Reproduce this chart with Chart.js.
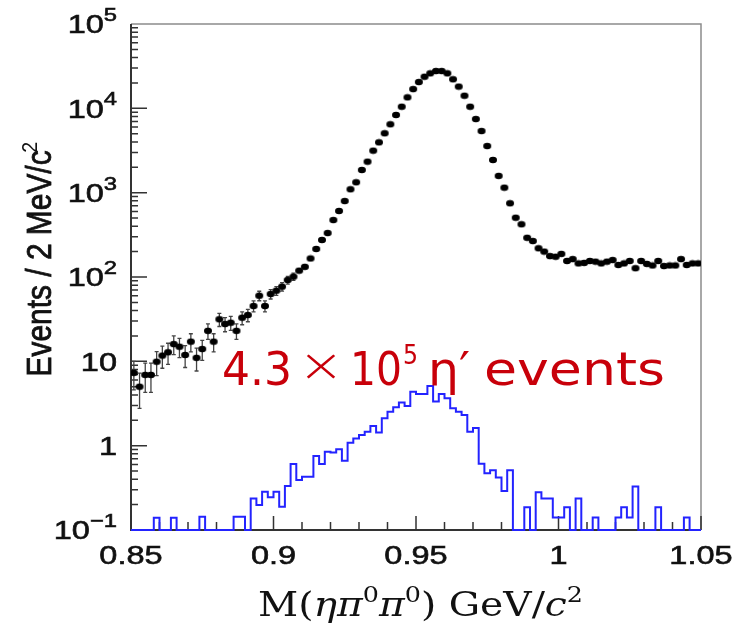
<!DOCTYPE html>
<html lang="en">
<head>
<meta charset="UTF-8">
<title>M(eta pi0 pi0)</title>
<script src="https://cdn.jsdelivr.net/npm/chart.js"></script>
<style>
  html, body { margin: 0; padding: 0; background: #fff; }
</style>
</head>
<body>
<canvas id="massPlot" width="740" height="628"></canvas>
<script>
// 2 MeV bins from 0.85 to 1.05 GeV
const binLow = 0.85;
const binWidth = 0.002;
const xMin = 0.85, xMax = 1.05;
const yMin = 0.1, yMax = 100000;

const xTickValues = [0.85, 0.9, 0.95, 1, 1.05];
const xTickLabels = ['0.85', '0.9', '0.95', '1', '1.05'];
const yTickValues = [0.1, 1, 10, 100, 1000, 10000, 100000];
const yTickBase = ['10', '1', '10', '10', '10', '10', '10'];
const yTickExp = ['\u22121', '', '', '2', '3', '4', '5'];

// data, events per bin (black dots)
const dataCounts = [
  7.3, 5.0, 6.9, 6.9, 9.9, 11.7, 12.8, 16, 14.9, 11.9,
  17.1, 11, 14, 23, 17.1, 31.5, 27.7, 28.7, 23, 32.9,
  35.4, 45.3, 60, 45.3, 62.8, 68.8, 76.8, 92, 101, 119,
  132, 166, 215, 275, 332, 474, 607, 796, 1097, 1327,
  1858, 2330, 3150, 3950, 5060, 6470, 8340, 10450, 13500, 16900,
  20500, 23700, 26000, 27700, 27700, 26000, 22100, 18100, 14100, 10450,
  7470, 5380, 3570, 2440, 1580, 1146, 748, 505, 422, 292,
  267, 219, 200, 177, 174, 188, 155, 163, 145, 147,
  155, 152, 145, 152, 159, 139, 145, 155, 127, 155,
  143, 137, 155, 135, 137, 137, 163, 139, 145, 145
];

// blue histogram
const bkgCounts = [
  0, 0, 0, 0, 0, 0.14, 0, 0, 0.14, 0,
  0, 0, 0, 0.144, 0, 0, 0, 0, 0, 0.144,
  0.144, 0, 0.237, 0.198, 0.285, 0.244, 0.285, 0.189, 0.333, 0.605,
  0.392, 0.429, 0.429, 0.754, 0.605, 0.849, 0.83, 0.905, 0.663, 1.08,
  1.22, 1.34, 1.46, 1.71, 1.43, 2.11, 2.53, 2.85, 3.24, 2.95,
  4.37, 4.1, 4.1, 5.1, 3.33, 4.1, 3.64, 2.77, 2.53, 2.31,
  1.46, 1.62, 0.61, 0.47, 0.51, 0.42, 0.29, 0.51, 0, 0,
  0.186, 0, 0.28, 0.237, 0.237, 0.141, 0.141, 0.186, 0, 0.237,
  0, 0, 0.141, 0, 0, 0, 0.141, 0.186, 0.141, 0.327,
  0, 0, 0, 0.186, 0, 0, 0, 0, 0.141, 0
];

const dataPoints = dataCounts.map((v, i) => ({ x: binLow + (i + 0.5) * binWidth, y: v }));
const bkgSteps = bkgCounts.map((v, i) => ({ x: binLow + i * binWidth, y: v > 0 ? v : yMin }));
bkgSteps.push({ x: binLow + bkgCounts.length * binWidth, y: yMin });

// slightly wide dots, like the original picture
const dot = document.createElement('canvas');
dot.width = 10; dot.height = 8;
(function () {
  const c = dot.getContext('2d');
  c.fillStyle = '#000';
  c.beginPath();
  c.ellipse(5, 4, 4.0, 3.3, 0, 0, Math.PI * 2);
  c.fill();
})();

const SX = 1.25; // horizontal stretch of label text
const sansFont = '"Liberation Sans", Arial, sans-serif';

function drawStretched(ctx, str, x, y, sx, align) {
  ctx.save();
  ctx.translate(x, y);
  ctx.scale(sx, 1);
  ctx.textAlign = align;
  ctx.fillText(str, 0, 0);
  ctx.strokeText(str, 0, 0);
  ctx.restore();
}

// pieces: [text, font, dy]
function drawPieces(ctx, pieces, x, y, targetWidth) {
  let w = 0;
  pieces.forEach(p => { ctx.font = p[1]; w += ctx.measureText(p[0]).width; });
  const sx = targetWidth / w;
  ctx.save();
  ctx.translate(x, y);
  ctx.scale(sx, 1);
  ctx.textAlign = 'left';
  let cx = 0;
  pieces.forEach(p => {
    ctx.font = p[1];
    ctx.fillText(p[0], cx, p[2]);
    cx += ctx.measureText(p[0]).width;
  });
  ctx.restore();
}

// one piece fitted into [x0, x0 + width]
function drawFitted(ctx, str, font, x0, y, width) {
  ctx.font = font;
  const w = ctx.measureText(str).width;
  ctx.save();
  ctx.translate(x0, y);
  ctx.scale(width / w, 1);
  ctx.textAlign = 'left';
  ctx.fillText(str, 0, 0);
  ctx.restore();
}

const histoFrame = {
  id: 'histoFrame',
  beforeDatasetsDraw(chart) {
    const { ctx, chartArea: a, scales: { x, y } } = chart;
    ctx.save();
    // frame
    ctx.strokeStyle = '#8c8c8c';
    ctx.lineWidth = 1.5;
    ctx.beginPath();
    ctx.moveTo(a.left, a.top); ctx.lineTo(a.right, a.top); ctx.lineTo(a.right, a.bottom);
    ctx.stroke();
    ctx.strokeStyle = '#333';
    ctx.lineWidth = 2;
    ctx.beginPath();
    ctx.moveTo(a.left, a.top); ctx.lineTo(a.left, a.bottom); ctx.lineTo(a.right, a.bottom);
    ctx.stroke();

    // ticks, pointing inside
    ctx.lineWidth = 1.5;
    ctx.strokeStyle = '#333';
    ctx.beginPath();
    for (let k = 0; k <= 20; k++) {
      const px = x.getPixelForValue(xMin + k * 0.01);
      const len = k % 5 === 0 ? 14 : 8;
      ctx.moveTo(px, a.bottom); ctx.lineTo(px, a.bottom - len);
    }
    for (let e = -1; e < 5; e++) {
      for (let m = 1; m < 10; m++) {
        const py = y.getPixelForValue(m * Math.pow(10, e));
        const len = m === 1 ? 16 : 7;
        ctx.moveTo(a.left, py); ctx.lineTo(a.left + len, py);
      }
    }
    ctx.stroke();

    // statistical error bars on the data
    ctx.strokeStyle = '#444';
    ctx.lineWidth = 1.3;
    ctx.beginPath();
    dataPoints.forEach(p => {
      const err = Math.sqrt(p.y);
      const px = x.getPixelForValue(p.x);
      const top = y.getPixelForValue(p.y + err);
      const bot = y.getPixelForValue(Math.max(p.y - err, yMin));
      if (bot - top < 7) return;
      ctx.moveTo(px, top); ctx.lineTo(px, bot);
      ctx.moveTo(px - 2, top); ctx.lineTo(px + 2, top);
      ctx.moveTo(px - 2, bot); ctx.lineTo(px + 2, bot);
    });
    ctx.stroke();
    ctx.restore();
  },
  afterDraw(chart) {
    const { ctx, chartArea: a, scales: { x, y } } = chart;
    ctx.save();
    ctx.fillStyle = '#111';
    ctx.strokeStyle = '#111';
    ctx.lineWidth = 0.6;
    ctx.textBaseline = 'alphabetic';

    // y tick labels
    const baseFont = '26px ' + sansFont;
    const expFont = '19px ' + sansFont;
    const right = 117;
    yTickValues.forEach((v, i) => {
      const py = y.getPixelForValue(v);
      ctx.font = expFont;
      const we = yTickExp[i] ? ctx.measureText(yTickExp[i]).width * SX : 0;
      ctx.font = baseFont;
      const wb = ctx.measureText(yTickBase[i]).width * SX;
      drawStretched(ctx, yTickBase[i], right - we - wb, py + 9.3, SX, 'left');
      if (yTickExp[i]) {
        ctx.font = expFont;
        drawStretched(ctx, yTickExp[i], right - we, py - 3, SX, 'left');
      }
    });

    // x tick labels
    ctx.font = baseFont;
    xTickValues.forEach((v, i) => {
      drawStretched(ctx, xTickLabels[i], x.getPixelForValue(v), a.bottom + 34, SX, 'center');
    });

    // y title
    ctx.save();
    ctx.translate(38, 258);
    ctx.rotate(-Math.PI / 2);
    const tFont = '26px ' + sansFont;
    const tSup = '17px ' + sansFont;
    ctx.font = tFont;
    const w1 = ctx.measureText('Events / 2 MeV/c').width;
    ctx.font = tSup;
    const w2 = ctx.measureText('2').width;
    const along = 237 / (w1 + w2);
    ctx.scale(along, SX + 0.1);
    ctx.textAlign = 'left';
    ctx.font = tFont;
    ctx.fillText('Events / 2 MeV/c', -(w1 + w2) / 2, 9.3);
    ctx.strokeText('Events / 2 MeV/c', -(w1 + w2) / 2, 9.3);
    ctx.font = tSup;
    ctx.fillText('2', -(w1 + w2) / 2 + w1 - 2, -1);
    ctx.restore();

    // x title
    const serif = '"DejaVu Serif", "Liberation Serif", serif';
    const rg = '34px ' + serif, it = 'italic 34px ' + serif, sp = '22px ' + serif;
    drawPieces(ctx, [
      ['M(', rg, 0], ['\u03b7', it, 0], ['\u03c0', it, 0], ['0', sp, -14],
      ['\u03c0', it, 0], ['0', sp, -14], [') GeV/', rg, 0], ['c', it, 0], ['2', sp, -14]
    ], 258, 616, 325);

    // annotation
    ctx.fillStyle = '#c8000a';
    const an = '46px "DejaVu Sans", sans-serif';
    const anThin = '300 46px "DejaVu Sans", sans-serif';
    const anSup = '27px "DejaVu Sans", sans-serif';
    drawFitted(ctx, '4.3', an, 222, 385, 70);
    drawFitted(ctx, '\u00d7', anThin, 298, 381, 46);
    drawFitted(ctx, '10', an, 350, 385, 52);
    drawFitted(ctx, '5', anSup, 403, 364, 15);
    drawFitted(ctx, '\u03b7\u2032', an, 428, 385, 42);
    drawFitted(ctx, 'events', an, 484, 385, 181);
    ctx.restore();
  }
};

new Chart(document.getElementById('massPlot').getContext('2d'), {
  type: 'scatter',
  data: {
    datasets: [
      {
        type: 'line',
        label: 'background',
        data: bkgSteps,
        stepped: 'after',
        borderColor: 'rgb(35, 35, 255)',
        borderWidth: 2,
        pointRadius: 0,
        fill: false,
        clip: 3
      },
      {
        label: 'data',
        data: dataPoints,
        pointStyle: dot,
        pointRadius: 4,
        backgroundColor: '#000',
        borderColor: '#000'
      }
    ]
  },
  options: {
    responsive: false,
    animation: false,
    layout: { padding: { left: 131, right: 39, top: 24, bottom: 98 } },
    plugins: {
      legend: { display: false },
      tooltip: { enabled: false }
    },
    scales: {
      x: { type: 'linear', min: xMin, max: xMax, display: false },
      y: { type: 'logarithmic', min: yMin, max: yMax, display: false }
    }
  },
  plugins: [histoFrame]
});
</script>
</body>
</html>
